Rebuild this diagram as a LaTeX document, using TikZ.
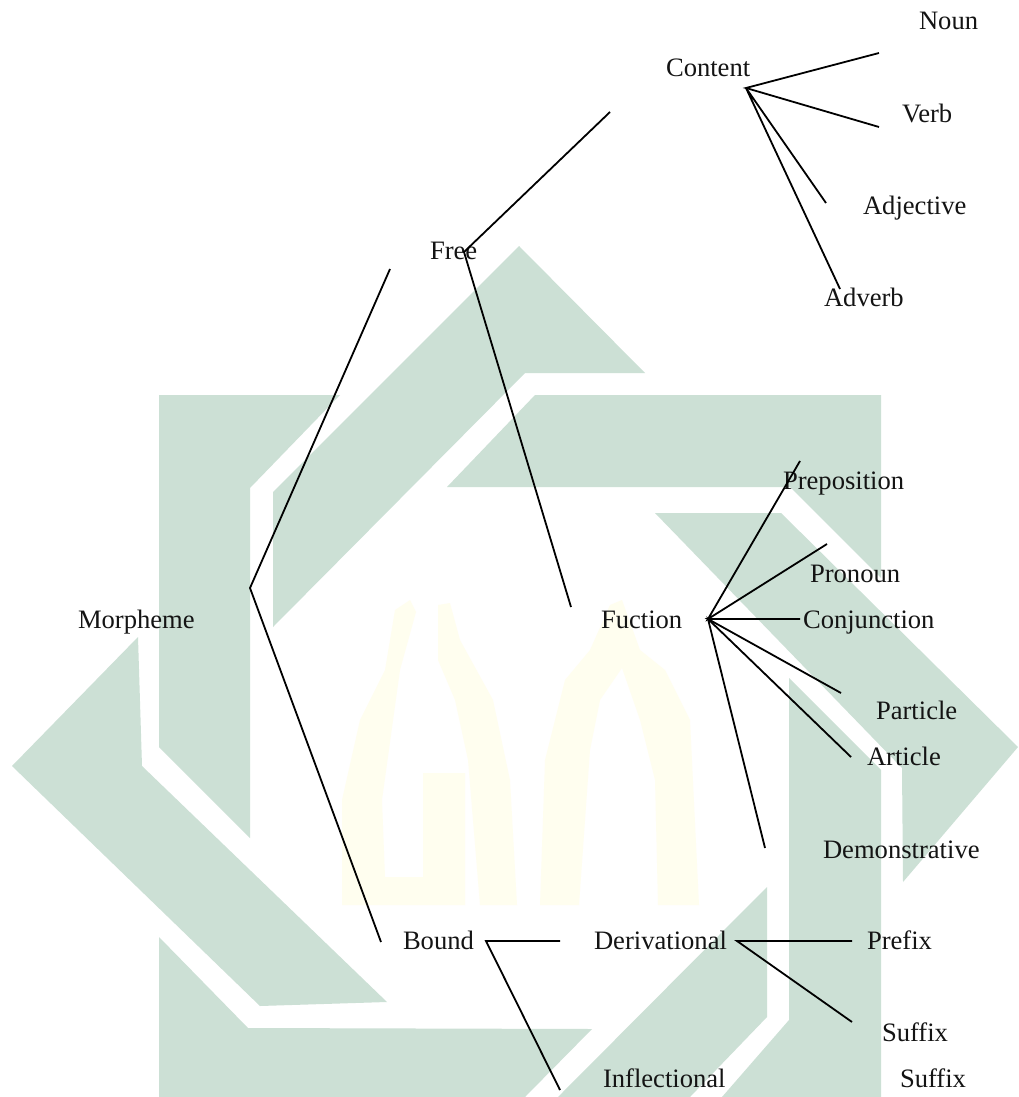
\documentclass[tikz,border=0pt]{standalone}
\usepackage{fontspec}
\setmainfont{Liberation Serif}
\definecolor{wm}{HTML}{CCE0D5}
\definecolor{wy}{HTML}{FFFEEF}
\tikzset{
  lab/.style={anchor=base west,inner sep=0pt,outer sep=0pt,font=\fontsize{26.6}{30}\selectfont,text=black!92},
  lnk/.style={draw=black,line width=1.8pt},
  mark shape/.style={fill=wm,draw=none},
  ga shape/.style={fill=wy,draw=none}
}
\begin{document}
\begin{tikzpicture}[x=1pt,y=-1pt]
\useasboundingbox (0,0) rectangle (1018,1097);
\fill[white] (0,0) rectangle (1018,1097);
% watermark
\path[mark shape] (159,395) -- (340,395) -- (250,488) -- (250,838) -- (159,747) -- cycle;
\path[mark shape] (519,246) -- (645,373) -- (525,373) -- (273,627) -- (273,492) -- cycle;
\path[mark shape] (535,395) -- (881,395) -- (881,578) -- (790,487) -- (447,487) -- cycle;
\path[mark shape] (655,513) -- (781,513) -- (1018,747) -- (903,882) -- (902,768) -- cycle;
\path[mark shape] (789,678) -- (881,770) -- (881,1097) -- (722,1097) -- (789,1020) -- cycle;
\path[mark shape] (767,887) -- (767,1017) -- (690,1097) -- (558,1097) -- cycle;
\path[mark shape] (159,937) -- (248,1028) -- (592,1029) -- (525,1097) -- (159,1097) -- cycle;
\path[mark shape] (12,766) -- (138,637) -- (142,766) -- (387,1002) -- (260,1006) -- cycle;
% faint letters
\path[ga shape] (342,905) -- (342,800) -- (360,720) -- (385,670) -- (395,610) -- (410,600) -- (416,612) -- (400,670) -- (382,800) -- (385,877) -- (423,877) -- (423,773) -- (465,773) -- (465,905) -- cycle;
\path[ga shape] (480,905) -- (468,760) -- (455,700) -- (438,660) -- (438,605) -- (450,603) -- (460,640) -- (493,700) -- (510,780) -- (517,905) -- cycle;
\path[ga shape] (540,905) -- (545,760) -- (565,680) -- (590,650) -- (610,605) -- (622,600) -- (640,650) -- (665,670) -- (690,720) -- (699,905) -- (658,905) -- (655,780) -- (640,720) -- (622,668) -- (600,700) -- (590,750) -- (579,905) -- cycle;
% hubs and free ends
\coordinate (hm) at (250,588);
\coordinate (mt) at (390,269);
\coordinate (mb) at (381,942);
\coordinate (hf) at (464,252);
\coordinate (ft) at (610,112);
\coordinate (fb) at (571,607);
\coordinate (hc) at (746,88);
\coordinate (c1) at (879,53);
\coordinate (c2) at (879,127);
\coordinate (c3) at (826,203);
\coordinate (c4) at (840,289);
\coordinate (hn) at (708,619);
\coordinate (n1) at (800,461);
\coordinate (n2) at (827,544);
\coordinate (n3) at (800,619);
\coordinate (n4) at (841,693);
\coordinate (n5) at (851,757);
\coordinate (n6) at (765,848);
\coordinate (hb) at (486,941);
\coordinate (b1) at (560,941);
\coordinate (b2) at (560,1090);
\coordinate (hd) at (737,941);
\coordinate (d1) at (852,941);
\coordinate (d2) at (852,1022);
% text
\node[lab] (morph) at (78,628) {Morpheme};
\node[lab] (free) at (430,259) {Free};
\node[lab] (bound) at (403,949.5) {Bound};
\node[lab] (content) at (666,76.5) {Content};
\node[lab] (fuction) at (601,628) {Fuction};
\node[lab] (deriv) at (594,949.5) {Derivational};
\node[lab] (infl) at (603,1087.5) {Inflectional};
\node[lab] (noun) at (919,30) {Noun};
\node[lab] (verb) at (902,122.5) {Verb};
\node[lab] (adj) at (863,214) {Adjective};
\node[lab] (adv) at (824,306) {Adverb};
\node[lab] (prep) at (783,489.5) {Preposition};
\node[lab] (pron) at (810,582) {Pronoun};
\node[lab] (conj) at (803,628) {Conjunction};
\node[lab] (part) at (876,719.5) {Particle};
\node[lab] (art) at (867,765.5) {Article};
\node[lab] (dem) at (823,858) {Demonstrative};
\node[lab] (pre) at (867,949.5) {Prefix};
\node[lab] (suf) at (882,1041.5) {Suffix};
\node[lab] (suf2) at (900,1087.5) {Suffix};
% connectors
\draw[lnk] (mt) -- (hm) -- (mb);
\draw[lnk] (ft) -- (hf) -- (fb);
\draw[lnk] (c1) -- (hc) -- (c2);
\draw[lnk] (c3) -- (hc) -- (c4);
\draw[lnk] (n1) -- (hn) -- (n2);
\draw[lnk] (n3) -- (hn) -- (n4);
\draw[lnk] (n5) -- (hn) -- (n6);
\draw[lnk] (b1) -- (hb) -- (b2);
\draw[lnk] (d1) -- (hd) -- (d2);
\end{tikzpicture}
\end{document}
